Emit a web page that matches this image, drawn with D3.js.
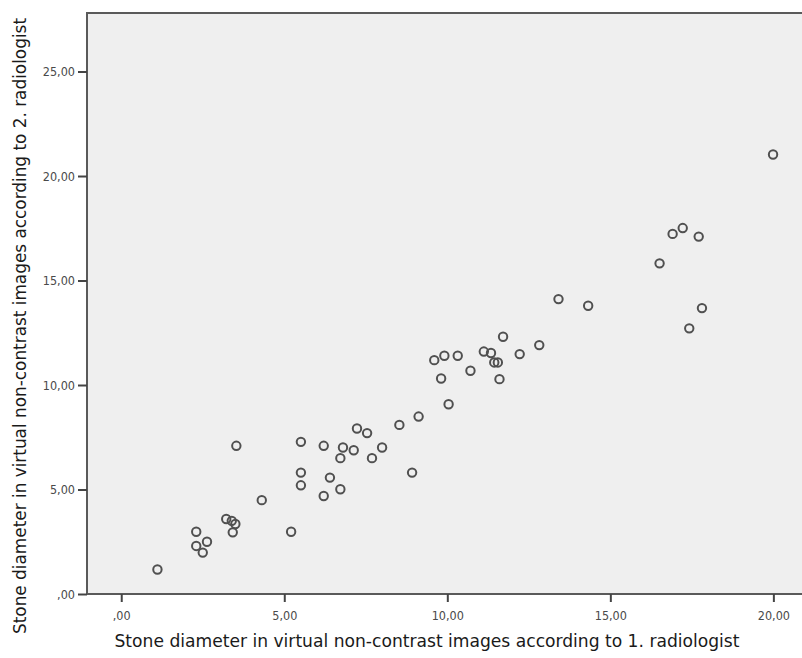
<!DOCTYPE html>
<html>
<head>
<meta charset="utf-8">
<script src="https://cdn.jsdelivr.net/npm/d3@7"></script>
<style>
  body { margin: 0; background: #fff; overflow: hidden; }
  svg { display: block; }
</style>
</head>
<body>
<div id="chart"></div>
<script>
// Stone diameters (mm)
var radiologist1 = [1.11, 2.30, 2.30, 2.63, 2.50, 3.22, 3.39, 3.50, 3.42, 3.53, 4.31, 5.21,
    5.51, 5.51, 5.51, 6.21, 6.21, 6.40, 6.72, 6.72, 6.80, 7.13, 7.23, 7.54, 7.69, 8.00,
    8.53, 8.92, 9.12, 9.60, 9.81, 9.91, 10.04, 10.32, 10.71, 11.12, 11.34, 11.44, 11.55,
    11.60, 11.71, 12.22, 12.82, 13.41, 14.32, 16.51, 16.91, 17.22, 17.71, 17.42, 17.81, 19.99];
var radiologist2 = [1.17, 2.98, 2.30, 2.50, 1.98, 3.59, 3.50, 3.35, 2.95, 7.09, 4.49, 2.98,
    7.28, 5.81, 5.20, 7.09, 4.69, 5.57, 5.01, 6.50, 7.01, 6.88, 7.92, 7.70, 6.50, 7.01,
    8.09, 5.81, 8.49, 11.19, 10.31, 11.40, 9.08, 11.40, 10.68, 11.60, 11.53, 11.08, 11.08,
    10.28, 12.31, 11.48, 11.91, 14.11, 13.79, 15.82, 17.23, 17.51, 17.10, 12.71, 13.68, 21.03];

var xTicks = [0, 5, 10, 15, 20];
var xTickLabels = [",00", "5,00", "10,00", "15,00", "20,00"];
var yTicks = [0, 5, 10, 15, 20, 25];
var yTickLabels = [",00", "5,00", "10,00", "15,00", "20,00", "25,00"];

var xTitle = "Stone diameter in virtual non-contrast images according to 1. radiologist";
var yTitle = "Stone diameter in virtual non-contrast images according to 2. radiologist";

var margin = { left: 87, right: 0, top: 13, bottom: 64 };
var width = 802, height = 658;
var plotW = 763, plotH = height - margin.top - margin.bottom;

var svg = d3.select("#chart").append("svg")
    .attr("width", width)
    .attr("height", height);

// 32.6 px per mm, the frame runs off the right edge of the picture
var x = d3.scaleLinear().domain([-1.05, 22.35]).range([0, plotW]);
var y = d3.scaleLinear().domain([0, 27.8]).range([plotH, 0]);

var g = svg.append("g")
    .attr("transform", "translate(" + margin.left + "," + margin.top + ")");

// plot background + frame
g.append("rect")
    .attr("x", 0).attr("y", 0)
    .attr("width", plotW).attr("height", plotH)
    .attr("fill", "#efefef")
    .attr("stroke", "#5a5a5a")
    .attr("stroke-width", 2);

// axes
var xAxis = d3.axisBottom(x)
    .tickValues(xTicks)
    .tickSize(8)
    .tickPadding(9)
    .tickFormat(function(d, i){ return xTickLabels[i]; });
var yAxis = d3.axisLeft(y)
    .tickValues(yTicks)
    .tickSize(9)
    .tickPadding(3)
    .tickFormat(function(d, i){ return yTickLabels[i]; });

var xg = g.append("g").attr("transform", "translate(0," + plotH + ")").call(xAxis);
var yg = g.append("g").call(yAxis);

[xg, yg].forEach(function(a){
    a.select(".domain").remove();
    a.selectAll(".tick line").attr("stroke", "#444").attr("stroke-width", 2);
    a.selectAll(".tick text")
        .attr("fill", "#4a4a4a")
        .attr("font-family", "'DejaVu Sans Condensed', 'DejaVu Sans', sans-serif")
        .attr("font-size", "12.5px");
});

// points
g.selectAll("circle.pt")
    .data(radiologist1)
    .enter()
    .append("circle")
        .attr("class", "pt")
        .attr("cx", function(d){ return x(d); })
        .attr("cy", function(d, i){ return y(radiologist2[i]); })
        .attr("r", 4.2)
        .attr("fill", "none")
        .attr("stroke", "#505050")
        .attr("stroke-width", 2);

// axis titles
var titleFont = "'DejaVu Sans Condensed', 'DejaVu Sans', sans-serif";

svg.append("text")
    .attr("x", 427)
    .attr("y", 647)
    .attr("text-anchor", "middle")
    .attr("font-family", titleFont)
    .attr("font-size", "17.5px")
    .attr("fill", "#1a1a1a")
    .attr("textLength", 625)
    .attr("lengthAdjust", "spacingAndGlyphs")
    .text(xTitle);

svg.append("text")
    .attr("transform", "translate(26,326) rotate(-90)")
    .attr("text-anchor", "middle")
    .attr("font-family", titleFont)
    .attr("font-size", "17.5px")
    .attr("fill", "#1a1a1a")
    .attr("textLength", 616)
    .attr("lengthAdjust", "spacingAndGlyphs")
    .text(yTitle);
</script>
</body>
</html>
